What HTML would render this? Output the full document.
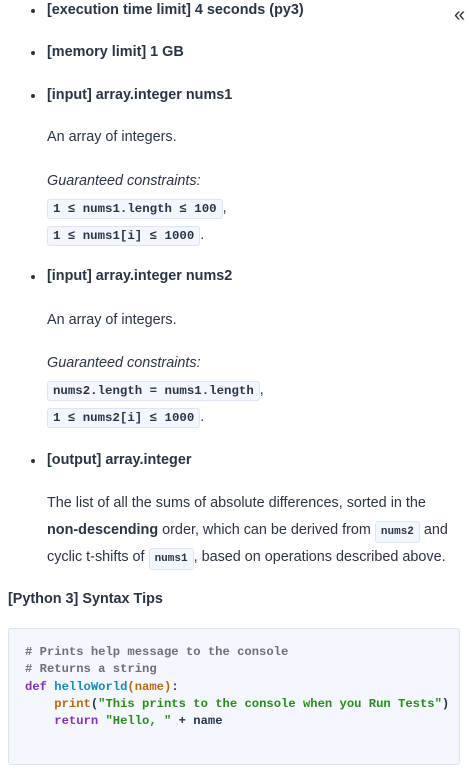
<!DOCTYPE html>
<html><head><meta charset="utf-8"><style>
body{margin:0;width:469px;height:773px;background:#fff;position:relative;overflow:hidden;font-family:"Liberation Sans",sans-serif;color:#2b3445;font-size:14.4px}
.w{position:absolute;left:0;top:1px;width:469px;height:772px}
.l{position:absolute;left:47px;line-height:20px;white-space:nowrap}
.b{font-weight:bold}
.dot{position:absolute;left:31px;width:4px;height:4px;border-radius:50%;background:#2b3445}
.i{font-style:italic}
.c{display:inline-block;font-family:"Liberation Mono",monospace;font-weight:bold;font-size:12.4px;background:#f3f6fd;border:1px solid #dde5f5;border-radius:3px;padding:0 5px;line-height:18px}
.s{font-size:11px;padding:0 5px;line-height:20px}
pre{position:absolute;left:8px;top:627px;width:452px;height:137px;box-sizing:border-box;margin:0;background:#f4f7fd;border:1px solid #dbe3f2;border-radius:3px;padding:15px 0 0 16px;font-family:"Liberation Mono",monospace;font-weight:bold;font-size:12.2px;line-height:17.3px;color:#2b3445}
.cm{color:#6c6f75}.kw{color:#8a2eb8}.fn{color:#1b8ab3}.ar{color:#b56a12}.st{color:#2a8a1e}
</style></head><body><div class="w">
<div class="dot" style="top:8px"></div><div class="l b" style="top:-1px">[execution time limit] 4 seconds (py3)</div>
<div style="position:absolute;left:454px;top:3px;font-size:20px;line-height:22px">«</div>
<div class="dot" style="top:50px"></div><div class="l b" style="top:41px">[memory limit] 1 GB</div>
<div class="dot" style="top:93px"></div><div class="l b" style="top:84px">[input] array.integer nums1</div>
<div class="l" style="top:126px">An array of integers.</div>
<div class="l i" style="top:170px">Guaranteed constraints:</div>
<div class="l" style="top:197px"><span class="c">1 ≤ nums1.length ≤ 100</span>,</div>
<div class="l" style="top:224px"><span class="c">1 ≤ nums1[i] ≤ 1000</span>.</div>
<div class="dot" style="top:274px"></div><div class="l b" style="top:265px">[input] array.integer nums2</div>
<div class="l" style="top:309px">An array of integers.</div>
<div class="l i" style="top:352px">Guaranteed constraints:</div>
<div class="l" style="top:379px"><span class="c">nums2.length = nums1.length</span>,</div>
<div class="l" style="top:406px"><span class="c">1 ≤ nums2[i] ≤ 1000</span>.</div>
<div class="dot" style="top:458px"></div><div class="l b" style="top:449px">[output] array.integer</div>
<div class="l" style="top:492px">The list of all the sums of absolute differences, sorted in the</div>
<div class="l" style="top:519px"><b>non-descending</b> order, which can be derived from <span class="c s">nums2</span> and</div>
<div class="l" style="top:546px">cyclic t-shifts of <span class="c s">nums1</span>, based on operations described above.</div>
<div class="l b" style="left:8px;top:588px">[Python 3] Syntax Tips</div>
<pre><span class="cm"># Prints help message to the console
# Returns a string</span>
<span class="kw">def</span> <span class="fn">helloWorld</span><span class="ar">(name)</span>:
    <span class="ar">print</span>(<span class="st">"This prints to the console when you Run Tests"</span>)
    <span class="kw">return</span> <span class="st">"Hello, "</span> + name</pre>
</div></body></html>
